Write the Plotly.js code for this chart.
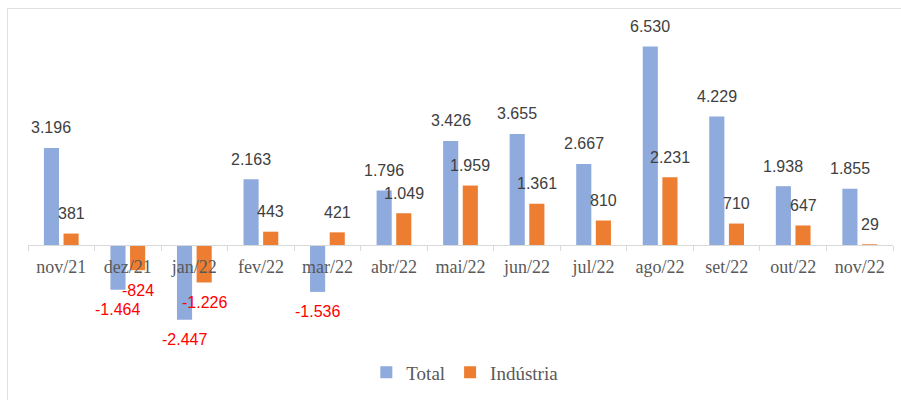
<!DOCTYPE html>
<html>
<head>
<meta charset="utf-8">
<script src="https://cdn.plot.ly/plotly-3.0.1.min.js"></script>
<style>
  html, body { margin: 0; padding: 0; background: #fff; }
  #wrap { position: relative; width: 901px; height: 400px; }
  #frame { position: absolute; left: 7px; top: 8px; width: 894px; height: 392px;
           border-top: 1px solid #e0e0e0; border-left: 1px solid #e0e0e0; box-sizing: border-box; pointer-events: none; }
  #chart { position: absolute; left: 0; top: 0; width: 901px; height: 400px; }
</style>
</head>
<body>
<div id="wrap">
  <div id="chart"></div>
  <div id="frame"></div>
</div>
<script>
const categories = ["nov/21","dez/21","jan/22","fev/22","mar/22","abr/22","mai/22","jun/22","jul/22","ago/22","set/22","out/22","nov/22"];
const totalValues = [3196, -1464, -2447, 2163, -1536, 1796, 3426, 3655, 2667, 6530, 4229, 1938, 1855];
const industriaValues = [381, -824, -1226, 443, 421, 1049, 1959, 1361, 810, 2231, 710, 647, 29];
const seriesNames = ["Total", "Indústria"];

const colors = ["#8FAADC", "#ED7D31"];
const yMin = -2755, yMax = 7300;
const bargap = 0.41, bargroupgap = 0.23;
const serif = "'Liberation Serif', 'Times New Roman', serif";
const sans = "'Liberation Sans', Arial, sans-serif";

function fmt(v) {
  const s = Math.abs(v).toString().replace(/\B(?=(\d{3})+(?!\d))/g, ".");
  return (v < 0 ? "-" : "") + s;
}

const traces = [totalValues, industriaValues].map((vals, k) => ({
  type: "bar",
  name: seriesNames[k],
  x: categories,
  y: vals,
  marker: { color: colors[k] },
  cliponaxis: false,
  hoverinfo: "x+y+name"
}));

const slot = (1 - bargap) / 2;
const annotations = [];
[totalValues, industriaValues].forEach((vals, k) => {
  const off = (k === 0 ? -1 : 1) * slot / 2;
  vals.forEach((v, i) => {
    annotations.push({
      x: i + off, y: v, xref: "x", yref: "y",
      text: fmt(v), showarrow: false,
      xanchor: "center", yanchor: "middle",
      yshift: v < 0 ? -20 : 20,
      font: { family: sans, size: 16, color: v < 0 ? "#FF0000" : "#404040" }
    });
  });
});

const layout = {
  width: 901, height: 400,
  margin: { l: 28, r: 8, t: 23, b: 67 },
  paper_bgcolor: "#ffffff", plot_bgcolor: "#ffffff",
  barmode: "group", bargap: bargap, bargroupgap: bargroupgap,
  showlegend: true,
  legend: {
    orientation: "h", x: 0.505, xanchor: "center", y: -0.142, yanchor: "middle",
    font: { family: serif, size: 19, color: "#595959" },
    itemwidth: 30, traceorder: "normal"
  },
  xaxis: {
    type: "category",
    anchor: "free",
    position: (0 - yMin) / (yMax - yMin),
    showline: true, linecolor: "#d9d9d9", linewidth: 1,
    ticks: "outside", tickson: "boundaries", ticklen: 5, tickcolor: "#d9d9d9",
    ticklabelstandoff: 5,
    showgrid: false, zeroline: false,
    tickfont: { family: serif, size: 18, color: "#595959" }
  },
  yaxis: {
    range: [yMin, yMax], visible: false, showgrid: false, zeroline: false
  },
  annotations: annotations
};

Plotly.newPlot("chart", traces, layout, { displayModeBar: false, staticPlot: true });
</script>
</body>
</html>
